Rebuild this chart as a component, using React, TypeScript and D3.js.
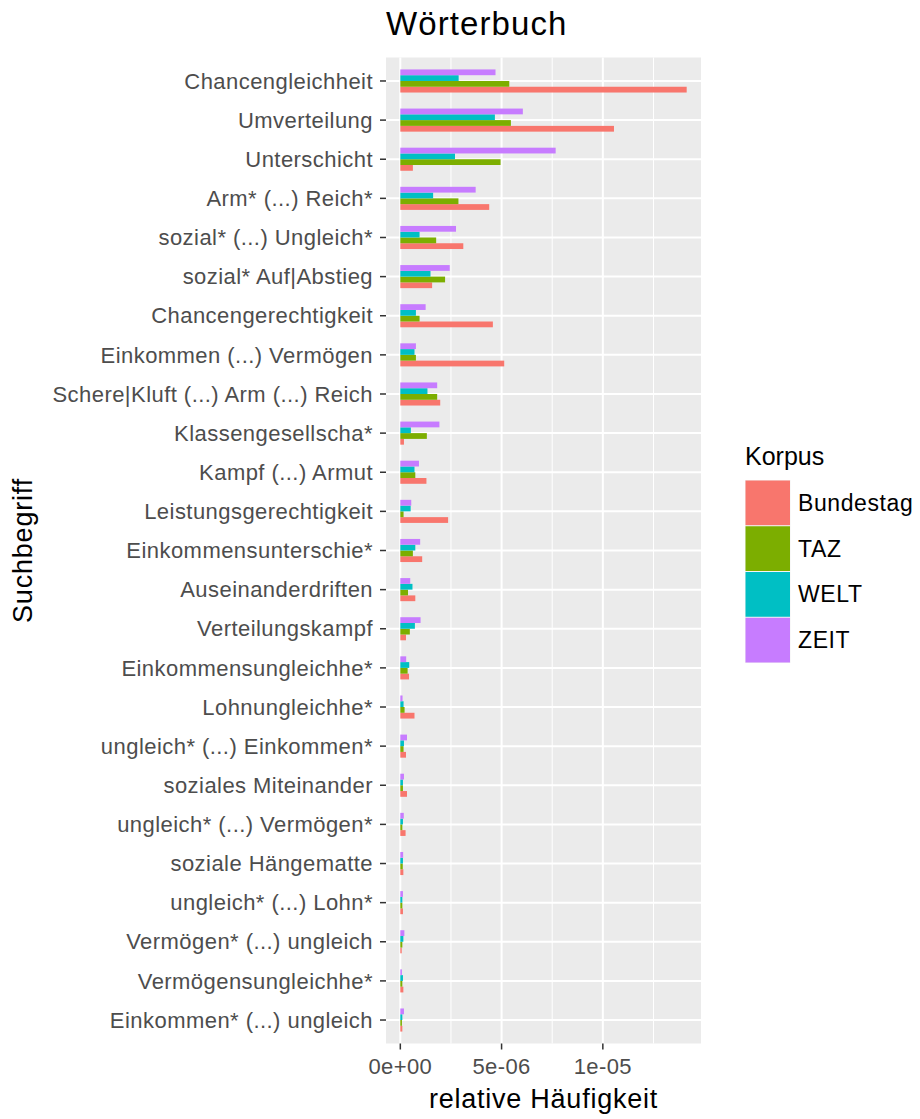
import * as d3 from "d3";

const categories = [
  "Chancengleichheit",
  "Umverteilung",
  "Unterschicht",
  "Arm* (...) Reich*",
  "sozial* (...) Ungleich*",
  "sozial* Auf|Abstieg",
  "Chancengerechtigkeit",
  "Einkommen (...) Vermögen",
  "Schere|Kluft (...) Arm (...) Reich",
  "Klassengesellscha*",
  "Kampf (...) Armut",
  "Leistungsgerechtigkeit",
  "Einkommensunterschie*",
  "Auseinanderdriften",
  "Verteilungskampf",
  "Einkommensungleichhe*",
  "Lohnungleichhe*",
  "ungleich* (...) Einkommen*",
  "soziales Miteinander",
  "ungleich* (...) Vermögen*",
  "soziale Hängematte",
  "ungleich* (...) Lohn*",
  "Vermögen* (...) ungleich",
  "Vermögensungleichhe*",
  "Einkommen* (...) ungleich",
];

// values in units of 1e-6
const bundestag = [14.14, 10.55, 0.62, 4.39, 3.11, 1.57, 4.57, 5.13, 1.97, 0.18, 1.29, 2.36, 1.08, 0.74, 0.28, 0.43, 0.7, 0.28, 0.33, 0.26, 0.15, 0.13, 0.07, 0.15, 0.1];
const taz = [5.38, 5.46, 4.95, 2.87, 1.77, 2.21, 0.95, 0.77, 1.82, 1.31, 0.74, 0.16, 0.62, 0.38, 0.47, 0.36, 0.21, 0.16, 0.13, 0.1, 0.12, 0.1, 0.1, 0.1, 0.08];
const welt = [2.88, 4.67, 2.7, 1.62, 0.95, 1.49, 0.77, 0.7, 1.34, 0.52, 0.7, 0.51, 0.74, 0.6, 0.72, 0.44, 0.16, 0.18, 0.13, 0.13, 0.13, 0.1, 0.15, 0.13, 0.1];
const zeit = [4.7, 6.05, 7.67, 3.72, 2.75, 2.44, 1.25, 0.77, 1.82, 1.93, 0.92, 0.54, 0.98, 0.49, 1.0, 0.29, 0.11, 0.33, 0.18, 0.17, 0.14, 0.13, 0.2, 0.08, 0.18];

const seriesNames = ["Bundestag", "TAZ", "WELT", "ZEIT"];
const seriesColors = ["#F8766D", "#7CAE00", "#00BFC4", "#C77CFF"];
const seriesValues = [bundestag, taz, welt, zeit];

const xTicks = [0, 5e-6, 1e-5];
const xTickLabels = ["0e+00", "5e-06", "1e-05"];
const xMinor = [2.5e-6, 7.5e-6, 1.25e-5];

const FONT = "'Liberation Sans', Arial, Helvetica, sans-serif";

export default function App() {
  const width = 920;
  const height = 1119;
  const panel = { left: 386, right: 701, top: 57.5, bottom: 1043.5 };

  const maxV = d3.max(seriesValues.flat())! * 1e-6;
  const pad = maxV * 0.05;
  const x = d3.scaleLinear().domain([-pad, maxV + pad]).range([panel.left, panel.right]);

  const y = d3
    .scaleBand()
    .domain(categories)
    .range([panel.top, panel.bottom])
    .paddingInner(0)
    .paddingOuter(0.1);

  const groupW = y.bandwidth() * 0.59;
  // ggplot dodge with coord_flip: first level at the bottom
  const inner = d3
    .scaleBand()
    .domain([...seriesNames].reverse())
    .range([-groupW / 2, groupW / 2]);

  const cy = (c: string) => y(c)! + y.bandwidth() / 2;

  const legendKey = 45.75;
  const legendTop = 480;

  return (
    <svg width={width} height={height} style={{ position: "absolute", left: 0, top: 0, background: "#fff" }} fontFamily={FONT}>
      <rect x={0} y={0} width={width} height={height} fill="#fff" />
      <text x={panel.left} y={35} fontSize={33} letterSpacing={1.1} fill="#000">Wörterbuch</text>

      <rect x={panel.left} y={panel.top} width={panel.right - panel.left} height={panel.bottom - panel.top} fill="#EBEBEB" />
      {xMinor.map((t) => (
        <line key={"mn" + t} x1={x(t)} x2={x(t)} y1={panel.top} y2={panel.bottom} stroke="#fff" strokeWidth={1} />
      ))}
      {xTicks.map((t) => (
        <line key={"mj" + t} x1={x(t)} x2={x(t)} y1={panel.top} y2={panel.bottom} stroke="#fff" strokeWidth={2} />
      ))}
      {categories.map((c) => (
        <line key={"h" + c} x1={panel.left} x2={panel.right} y1={cy(c)} y2={cy(c)} stroke="#fff" strokeWidth={2} />
      ))}

      {categories.map((c, i) =>
        seriesNames.map((s, k) => {
          const v = seriesValues[k][i] * 1e-6;
          return (
            <rect
              key={c + s}
              x={x(0)}
              y={cy(c) + inner(s)!}
              width={x(v) - x(0)}
              height={inner.bandwidth()}
              fill={seriesColors[k]}
            />
          );
        })
      )}

      {/* y axis */}
      {categories.map((c) => (
        <g key={"yl" + c}>
          <line x1={panel.left - 6} x2={panel.left} y1={cy(c)} y2={cy(c)} stroke="#333" strokeWidth={1.5} />
          <text x={panel.left - 13} y={cy(c)} dy="0.35em" textAnchor="end" fontSize={22} letterSpacing={0.45} fill="#4D4D4D">
            {c}
          </text>
        </g>
      ))}

      {/* x axis */}
      {xTicks.map((t, i) => (
        <g key={"xl" + t}>
          <line x1={x(t)} x2={x(t)} y1={panel.bottom} y2={panel.bottom + 6} stroke="#333" strokeWidth={1.5} />
          <text x={x(t)} y={1074} textAnchor="middle" fontSize={22} letterSpacing={0.4} fill="#4D4D4D">
            {xTickLabels[i]}
          </text>
        </g>
      ))}

      <text x={(panel.left + panel.right) / 2} y={1108} textAnchor="middle" fontSize={27} letterSpacing={0.75} fill="#000">
        relative Häufigkeit
      </text>
      <text
        transform={`translate(32, ${(panel.top + panel.bottom) / 2}) rotate(-90)`}
        textAnchor="middle"
        fontSize={27}
        letterSpacing={0.8}
        fill="#000"
      >
        Suchbegriff
      </text>

      {/* legend */}
      <text x={745} y={465} fontSize={25} fill="#000">Korpus</text>
      {seriesNames.map((s, k) => (
        <g key={"lg" + s}>
          <rect x={745} y={legendTop + k * legendKey} width={45.5} height={legendKey} fill="#F2F2F2" />
          <rect x={745.5} y={legendTop + k * legendKey + 0.5} width={44.5} height={legendKey - 1} fill={seriesColors[k]} />
          <text x={798} y={legendTop + k * legendKey + legendKey / 2} dy="0.35em" fontSize={23} letterSpacing={0.6} fill="#000">
            {s}
          </text>
        </g>
      ))}
    </svg>
  );
}
